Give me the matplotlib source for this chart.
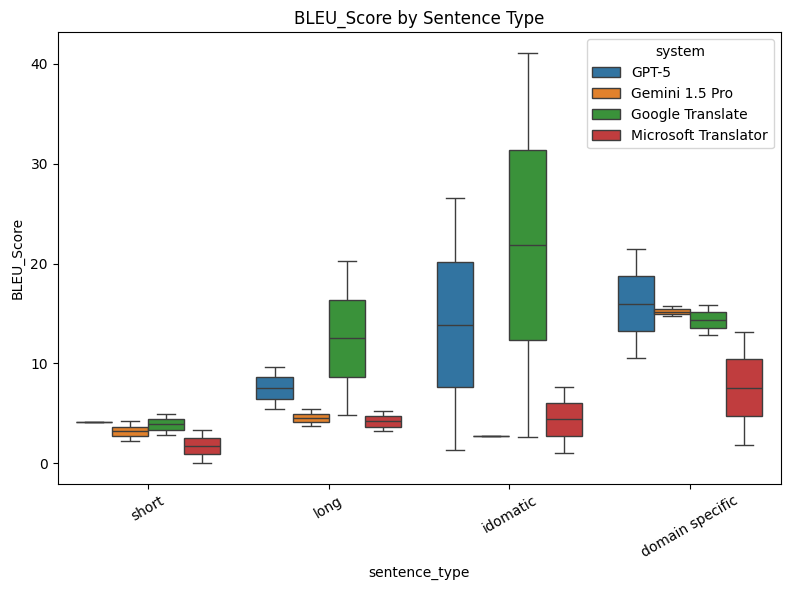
import numpy as np
import pandas as pd
import matplotlib
matplotlib.use("Agg")
import matplotlib.pyplot as plt
import seaborn as sns

# Sentence types and systems (labels kept as in the chart)
sentence_types = ["short", "long", "idomatic", "domain specific"]
systems = ["GPT-5", "Gemini 1.5 Pro", "Google Translate", "Microsoft Translator"]

# Five scores per system (min, q1, median, q3, max)
gpt5_scores = {
    "short": [4.1, 4.1, 4.1, 4.1, 4.1],
    "long": [5.4, 6.4, 7.5, 8.6, 9.6],
    "idomatic": [1.3, 7.6, 13.9, 20.2, 26.6],
    "domain specific": [10.5, 13.3, 16.0, 18.8, 21.5],
}
gemini_scores = {
    "short": [2.2, 2.7, 3.2, 3.6, 4.2],
    "long": [3.7, 4.1, 4.5, 4.9, 5.4],
    "idomatic": [2.75, 2.75, 2.75, 2.75, 2.75],
    "domain specific": [14.8, 15.0, 15.2, 15.5, 15.8],
}
google_scores = {
    "short": [2.8, 3.3, 3.9, 4.4, 4.9],
    "long": [4.8, 8.6, 12.5, 16.4, 20.3],
    "idomatic": [2.6, 12.3, 21.9, 31.4, 41.1],
    "domain specific": [12.8, 13.6, 14.4, 15.2, 15.9],
}
microsoft_scores = {
    "short": [0.0, 0.9, 1.7, 2.5, 3.3],
    "long": [3.2, 3.6, 4.2, 4.7, 5.2],
    "idomatic": [1.0, 2.7, 4.4, 6.0, 7.6],
    "domain specific": [1.8, 4.7, 7.5, 10.4, 13.2],
}

rows = []
for name, scores in zip(systems, [gpt5_scores, gemini_scores, google_scores, microsoft_scores]):
    for st in sentence_types:
        for v in scores[st]:
            rows.append({"sentence_type": st, "system": name, "BLEU_Score": v})
df = pd.DataFrame(rows)

fig, ax = plt.subplots(figsize=(7.9, 5.9), dpi=100)
sns.boxplot(data=df, x="sentence_type", y="BLEU_Score", hue="system",
            order=sentence_types, hue_order=systems, ax=ax)
ax.set_title("BLEU_Score by Sentence Type")
ax.tick_params(axis="x", rotation=30)
sns.move_legend(ax, "upper right")
plt.subplots_adjust(left=0.073, right=0.988, top=0.945, bottom=0.18)
plt.savefig("out.png", dpi=100)
